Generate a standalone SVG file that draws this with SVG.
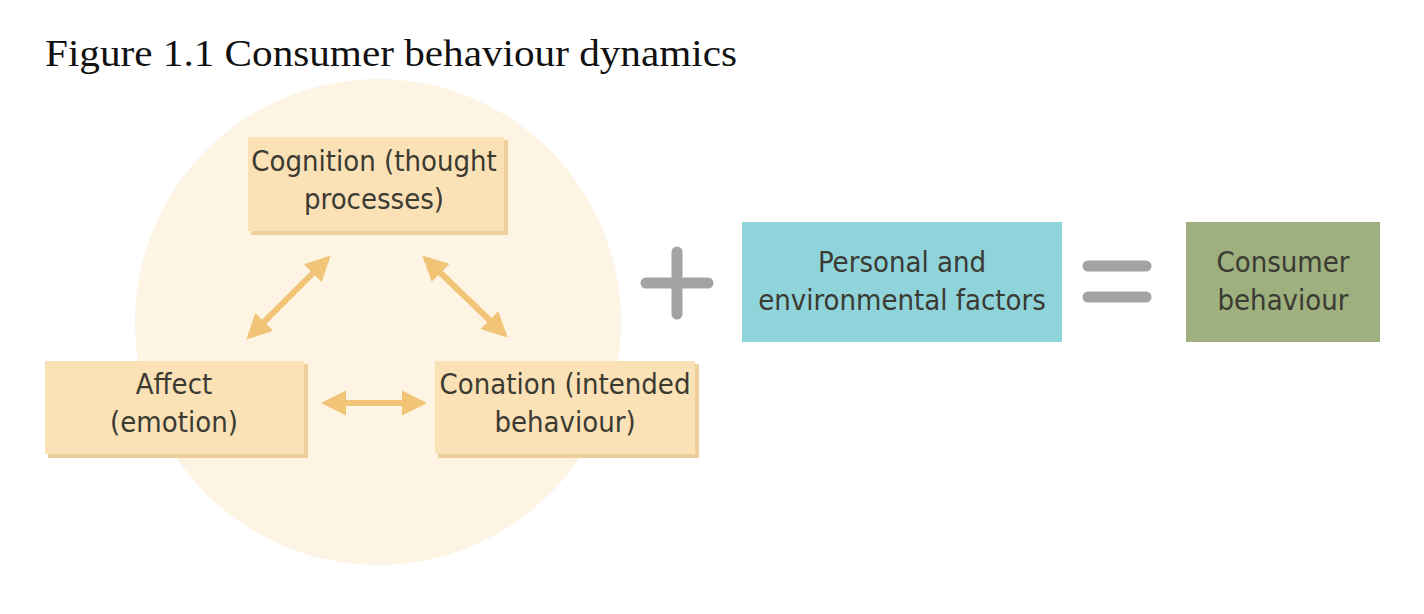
<svg xmlns="http://www.w3.org/2000/svg" width="1424" height="614" viewBox="0 0 1424 614">
<style>
.box{fill:#fbe1b6;}
.shadow{fill:#efd09c;}
.lbl{font-family:"DejaVu Sans Condensed","DejaVu Sans",sans-serif;font-size:29px;fill:#3b3a33;text-anchor:middle;}
.conn{stroke:#f2c477;stroke-width:6;fill:none;marker-start:url(#ah);marker-end:url(#ah);}
.op{stroke:#a3a3a6;stroke-width:11;stroke-linecap:round;fill:none;}
</style>
<defs>
<marker id="ah" viewBox="0 0 10 10" refX="8" refY="5" markerWidth="4.2" markerHeight="4.2" orient="auto-start-reverse" markerUnits="strokeWidth">
<path d="M0,0 L10,5 L0,10 z" fill="#f2c477"/>
</marker>
</defs>
<rect width="1424" height="614" fill="#ffffff"/>
<text x="45" y="66" font-family="Liberation Serif, serif" font-size="38" fill="#111" textLength="692" lengthAdjust="spacingAndGlyphs">Figure 1.1 Consumer behaviour dynamics</text>
<circle id="bg-circle" cx="378" cy="322" r="243" fill="#fdf4e4"/>
<g id="cognition">
<rect class="shadow" x="251" y="140" width="257" height="95"/>
<rect class="box" x="248" y="137" width="256" height="94"/>
<text class="lbl" x="374" y="171">Cognition (thought</text>
<text class="lbl" x="374" y="209">processes)</text>
</g>
<g id="affect">
<rect class="shadow" x="48" y="364" width="260" height="94"/>
<rect class="box" x="45" y="361" width="259" height="93"/>
<text class="lbl" x="174" y="394">Affect</text>
<text class="lbl" x="174" y="432">(emotion)</text>
</g>
<g id="conation">
<rect class="shadow" x="438" y="364" width="261" height="94"/>
<rect class="box" x="435" y="361" width="260" height="93"/>
<text class="lbl" x="565" y="394">Conation (intended</text>
<text class="lbl" x="565" y="432">behaviour)</text>
</g>
<g id="connectors">
<line class="conn" x1="327" y1="259" x2="250" y2="336"/>
<line class="conn" x1="426" y1="259" x2="504" y2="334"/>
<line class="conn" x1="326" y1="403" x2="422" y2="403"/>
</g>
<g id="plus">
<line class="op" x1="646" y1="283" x2="708" y2="283"/>
<line class="op" x1="677" y1="252" x2="677" y2="314"/>
</g>
<g id="personal">
<rect x="742" y="222" width="320" height="120" fill="#8fd4db"/>
<text class="lbl" x="902" y="272" fill="#2c3e40">Personal and</text>
<text class="lbl" x="902" y="310">environmental factors</text>
</g>
<g id="equals">
<line class="op" x1="1088" y1="266" x2="1146" y2="266"/>
<line class="op" x1="1088" y1="297" x2="1146" y2="297"/>
</g>
<g id="consumer">
<rect x="1186" y="222" width="194" height="120" fill="#9db07e"/>
<text class="lbl" x="1283" y="272">Consumer</text>
<text class="lbl" x="1283" y="310">behaviour</text>
</g>
</svg>
